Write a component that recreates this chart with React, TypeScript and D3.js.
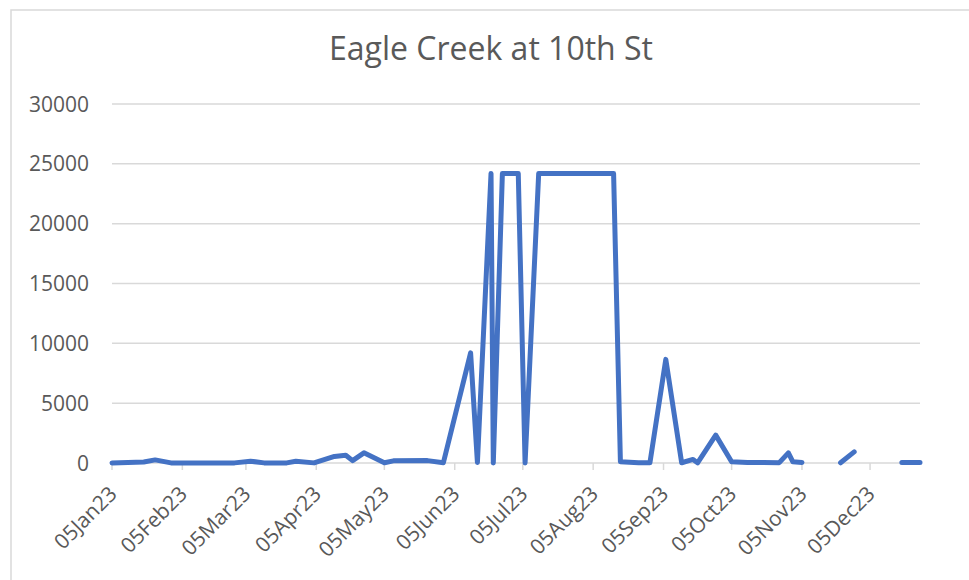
import React, { useEffect, useRef } from 'react';
import * as d3 from 'd3';

// Sample dates and E. coli counts (null = no sample, line breaks)
const sampleDates = [
  '2023-01-05', '2023-01-19', '2023-01-24', '2023-01-31', '2023-02-14', '2023-02-28',
  '2023-03-07', '2023-03-13', '2023-03-23', '2023-03-27', '2023-04-04', '2023-04-13',
  '2023-04-18', '2023-04-21', '2023-04-26', '2023-05-05', '2023-05-09', '2023-05-24',
  '2023-05-31', '2023-06-12', '2023-06-15', '2023-06-21', '2023-06-22', '2023-06-26',
  '2023-07-03', '2023-07-06', '2023-07-12', '2023-07-19', '2023-07-26', '2023-08-02',
  '2023-08-09', '2023-08-14', '2023-08-17', '2023-08-25', '2023-08-30', '2023-09-06',
  '2023-09-13', '2023-09-18', '2023-09-20', '2023-09-28', '2023-10-05', '2023-10-12',
  '2023-10-19', '2023-10-26', '2023-10-30', '2023-11-01', '2023-11-05', '2023-11-12',
  '2023-11-22', '2023-11-28', '2023-12-10', '2023-12-19', '2023-12-27'
];
const ecoliValues: (number | null)[] = [
  10, 80, 260, 10, 10, 10,
  150, 10, 10, 150, 10, 550,
  650, 200, 850, 20, 180, 200,
  20, 9200, 50, 24196, 0, 24196,
  24196, 0, 24196, 24196, 24196, 24196,
  24196, 24196, 100, 20, 20, 8660,
  20, 300, 10, 2330, 100, 50,
  50, 30, 850, 100, 50, null,
  20, 930, null, 40, 40
];
const tickDates = [
  '2023-01-05', '2023-02-05', '2023-03-05', '2023-04-05', '2023-05-05', '2023-06-05',
  '2023-07-05', '2023-08-05', '2023-09-05', '2023-10-05', '2023-11-05', '2023-12-05'
];
const yTicks = [0, 5000, 10000, 15000, 20000, 25000, 30000];

const chartTitle = 'Eagle Creek at 10th St';

const App = () => {
  const svgRef = useRef<SVGSVGElement>(null);

  useEffect(() => {
    if (!svgRef.current) return;
    const svg = d3.select(svgRef.current);
    svg.selectAll('*').remove();

    const width = 969;
    const height = 580;
    const plot = { left: 112, right: 920, top: 104, bottom: 463 };
    const textColor = '#595959';
    const gridColor = '#d9d9d9';
    const font = '"Open Sans", sans-serif';

    const parse = d3.timeParse('%Y-%m-%d');
    const points = sampleDates.map((d, i) => ({ date: parse(d) as Date, value: ecoliValues[i] }));
    const ticks = tickDates.map(d => parse(d) as Date);

    const x = d3.scaleTime()
      .domain([points[0].date, points[points.length - 1].date])
      .range([plot.left, plot.right]);
    const y = d3.scaleLinear()
      .domain([0, 30000])
      .range([plot.bottom, plot.top]);

    svg.attr('width', width).attr('height', height);

    // Chart border
    svg.append('rect')
      .attr('x', 11)
      .attr('y', 10)
      .attr('width', width + 20)
      .attr('height', height + 20)
      .attr('fill', '#fff')
      .attr('stroke', gridColor)
      .attr('stroke-width', 1.5);

    // Title
    svg.append('text')
      .attr('x', 491)
      .attr('y', 60)
      .attr('text-anchor', 'middle')
      .attr('fill', textColor)
      .attr('font-family', font)
      .attr('font-size', '32px')
      .text(chartTitle);

    // Gridlines + y labels
    yTicks.forEach(t => {
      svg.append('line')
        .attr('x1', plot.left)
        .attr('x2', plot.right)
        .attr('y1', y(t))
        .attr('y2', y(t))
        .attr('stroke', gridColor)
        .attr('stroke-width', 1.5);

      svg.append('text')
        .attr('x', 89)
        .attr('y', y(t))
        .attr('dy', '0.36em')
        .attr('text-anchor', 'end')
        .attr('fill', textColor)
        .attr('font-family', font)
        .attr('font-size', '21px')
        .text(String(t));
    });

    // x ticks + rotated labels
    const fmt = d3.timeFormat('%d%b%y');
    ticks.forEach(t => {
      const tx = x(t);
      svg.append('line')
        .attr('x1', tx)
        .attr('x2', tx)
        .attr('y1', plot.bottom)
        .attr('y2', plot.bottom + 7)
        .attr('stroke', gridColor)
        .attr('stroke-width', 1.5);

      svg.append('text')
        .attr('transform', `translate(${tx + 1}, 490) rotate(-45)`)
        .attr('dy', '0.35em')
        .attr('text-anchor', 'end')
        .attr('fill', textColor)
        .attr('font-family', font)
        .attr('font-size', '21px')
        .text(fmt(t));
    });

    // Series line
    const line = d3.line<{ date: Date; value: number | null }>()
      .defined(d => d.value !== null)
      .x(d => x(d.date))
      .y(d => y(d.value as number));

    svg.append('path')
      .datum(points)
      .attr('d', line)
      .attr('fill', 'none')
      .attr('stroke', '#4472c4')
      .attr('stroke-width', 5)
      .attr('stroke-linejoin', 'round')
      .attr('stroke-linecap', 'round');
  }, []);

  return (
    <svg
      ref={svgRef}
      style={{ position: 'absolute', left: 0, top: 0, display: 'block', background: '#fff' }}
    />
  );
};

export default App;
